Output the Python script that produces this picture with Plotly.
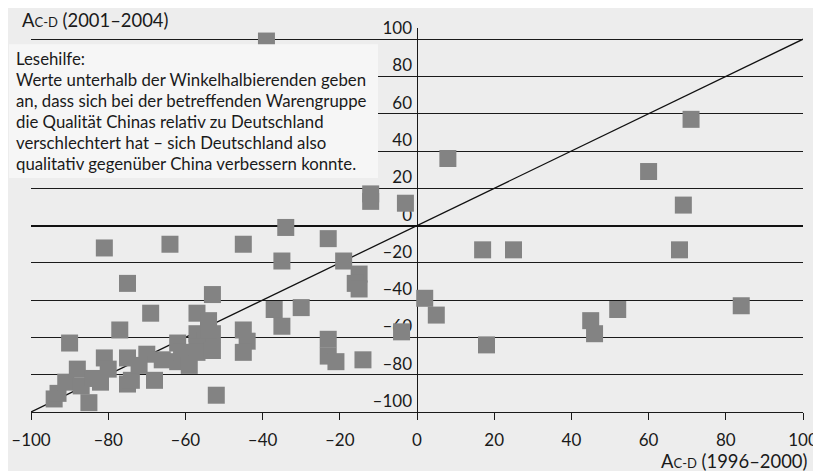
import plotly.graph_objects as go

# A_C-D (1996-2000) vs A_C-D (2001-2004)
x_vals = [-39, -12, -12, -3, -34,
          -81, -64, -45, -23, -35, -19, -15, -16, -15,
          -53, -75, -69, -77, -90, -37, -30, -35,
          -23, -23, -21, -14, -4, 2, 5,
          8, 71, 60, 69, 68, 17, 25, 84, 52, 45, 46, 18,
          -94, -93, -91, -88, -87, -85, -84, -81, -80, -82,
          -75, -75, -74, -70, -72, -68, -66, -62, -62, -61,
          -57, -54, -57, -53, -55, -57, -57, -53, -59, -54, -52,
          -45, -44, -45]
y_vals = [99, 17, 13, 12, -1,
          -12, -10, -10, -7, -19, -19, -26, -31, -34,
          -37, -31, -47, -56, -63, -45, -44, -54,
          -61, -70, -73, -72, -57, -39, -48,
          36, 57, 29, 11, -13, -13, -13, -43, -45, -51, -58, -64,
          -93, -90, -84, -77, -86, -95, -82, -71, -77, -84,
          -71, -85, -83, -69, -75, -83, -72, -63, -73, -68,
          -47, -51, -58, -58, -62, -65, -68, -67, -75, -56, -91,
          -56, -62, -68]

diag_x = [-100, 100]
diag_y = [-100, 100]
tick_vals = [-100, -80, -60, -40, -20, 0, 20, 40, 60, 80, 100]
tick_text = ["\u2013100", "\u201380", "\u201360", "\u201340", "\u201320", "0",
             "20", "40", "60", "80", "100"]

reading_help = ["Lesehilfe:",
                "Werte unterhalb der Winkelhalbierenden geben",
                "an, dass sich bei der betreffenden Warengruppe",
                "die Qualität Chinas relativ zu Deutschland",
                "verschlechtert hat \u2013 sich Deutschland also",
                "qualitativ gegenüber China verbessern konnte."]

FONT = "Lato"
BG = "#ededed"
INK = "#1a1a1a"

# plot area in page pixels: x 31..803, y 27.7..412.3 (page has an 8px body offset)
PL, PR, PT, PB = 31, 803, 27.7, 412.3
PW, PH = PR - PL, PB - PT


def px(xp):
    return (xp - PL) / PW


def py(yp):
    return (PB - yp) / PH


fig = go.Figure()
fig.add_trace(go.Scatter(x=diag_x, y=diag_y, mode="lines",
                         line=dict(color="#111111", width=1.3),
                         hoverinfo="skip", showlegend=False))
fig.add_trace(go.Scatter(x=x_vals, y=y_vals, mode="markers",
                         marker=dict(symbol="square", size=17, color="#838383",
                                     line=dict(width=0)),
                         cliponaxis=False, showlegend=False))

fig.update_layout(
    width=821, height=471,
    margin=dict(l=PL - 8, r=821 - (PR - 8), t=PT - 8, b=471 - (PB - 8)),
    paper_bgcolor=BG, plot_bgcolor=BG,
    font=dict(family=FONT, size=17, color=INK),
    showlegend=False,
    xaxis=dict(range=[-100, 100], tickvals=tick_vals, ticktext=tick_text,
               automargin=False,
               showgrid=False, zeroline=True, zerolinecolor=INK,
               zerolinewidth=1.3, showline=True, linecolor=INK,
               linewidth=1, ticks="outside", ticklen=7, tickcolor=INK,
               ticklabelstandoff=6, tickfont=dict(size=17)),
    yaxis=dict(range=[-100, 106], tickvals=tick_vals, ticktext=tick_text,
               automargin=False,
               anchor="free", position=0.5, side="left",
               showgrid=True, gridcolor=INK, gridwidth=1,
               zeroline=True, zerolinecolor="#111111", zerolinewidth=2.2,
               showline=False, ticks="", ticklabelshift=-11,
               ticklabelstandoff=5, layer="below traces",
               tickfont=dict(size=17)),
)

# reading-help box
fig.add_shape(type="rect", xref="paper", yref="paper",
              x0=px(9), x1=px(378), y0=py(178), y1=py(44),
              fillcolor="#f6f6f6", line=dict(width=0), layer="above")
for i, line in enumerate(reading_help):
    yc = 58.5 + i * 21.0
    fig.add_annotation(xref="paper", yref="paper",
                       x=px(14), y=py(yc),
                       xanchor="left", yanchor="middle", showarrow=False,
                       text=line, font=dict(size=16.8, family=FONT, color=INK))

fig.add_annotation(xref="paper", yref="paper",
                   x=px(20), y=py(20),
                   xanchor="left", yanchor="middle", showarrow=False,
                   text='A<span style="font-size:13px">C-D</span> (2001\u20132004)',
                   font=dict(size=18.4, family=FONT, color=INK))
fig.add_annotation(xref="paper", yref="paper",
                   x=px(809), y=py(461),
                   xanchor="right", yanchor="middle", showarrow=False,
                   text='A<span style="font-size:13px">C-D</span> (1996\u20132000)',
                   font=dict(size=18.4, family=FONT, color=INK))

fig.write_html("out.html")
